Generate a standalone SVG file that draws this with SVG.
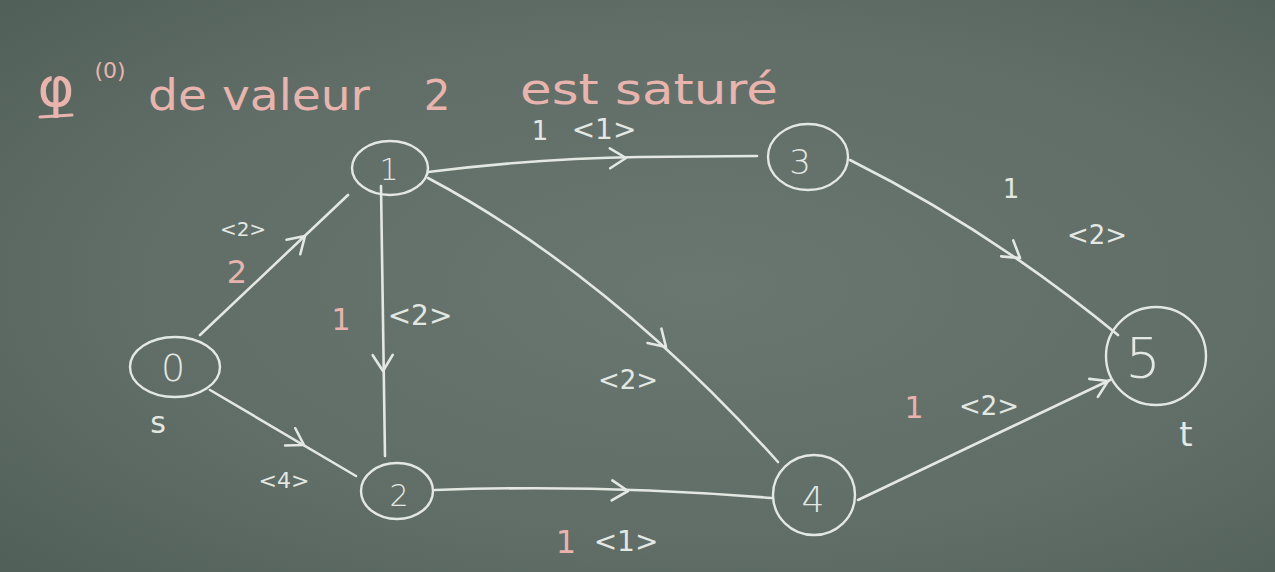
<svg xmlns="http://www.w3.org/2000/svg" width="1275" height="572" viewBox="0 0 1275 572">
  <defs>
    <radialGradient id="board" cx="0.55" cy="0.5" r="0.75">
      <stop offset="0" stop-color="#6a7670"/>
      <stop offset="0.6" stop-color="#606e67"/>
      <stop offset="1" stop-color="#505f57"/>
    </radialGradient>
    <path id="chev" d="M-16,-10 L0,0 L-16,10"/>
    <style>
      .chalk { fill: none; stroke: #e3e8e3; stroke-width: 2.6; stroke-linecap: round; stroke-linejoin: round; }
      .node { fill: none; stroke: #e3e8e3; stroke-width: 2.4; }
      .num { font-family: "DejaVu Sans", "Liberation Sans", sans-serif; fill: #e3e8e3; text-anchor: middle; font-weight: 300; }
      .lbl { font-family: "DejaVu Sans", "Liberation Sans", sans-serif; fill: #e3e8e3; text-anchor: middle; }
      .pink { font-family: "DejaVu Sans", "Liberation Sans", sans-serif; fill: #e9b4ad; text-anchor: middle; }
      .pinkl { font-family: "DejaVu Sans", "Liberation Sans", sans-serif; fill: #e9b4ad; text-anchor: start; }
      .arrow { fill: none; stroke: #e3e8e3; stroke-width: 2.6; stroke-linecap: round; stroke-linejoin: round; }
    </style>
  </defs>
  <rect x="0" y="0" width="1275" height="572" fill="url(#board)"/>

  <g id="title">
    <text class="pink" x="56" y="106" font-size="56">φ</text>
    <line x1="40" y1="117" x2="72" y2="115" stroke="#e9b4ad" stroke-width="3" stroke-linecap="round"/>
    <text class="pink" x="110" y="78" font-size="22">(0)</text>
    <text class="pinkl" x="148" y="110" font-size="42" textLength="222" lengthAdjust="spacingAndGlyphs">de valeur</text>
    <text class="pink" x="437" y="110" font-size="42">2</text>
    <text class="pinkl" x="520" y="104" font-size="42" textLength="258" lengthAdjust="spacingAndGlyphs">est saturé</text>
  </g>

  <g id="connectors">
    <!-- 0 -> 1 -->
    <path class="chalk" d="M200,335 L348,195"/>
    <use href="#chev" class="arrow" transform="translate(305,236) rotate(-43.5)"/>
    <!-- 0 -> 2 -->
    <path class="chalk" d="M210,390 L356,476"/>
    <use href="#chev" class="arrow" transform="translate(304,445) rotate(30.5)"/>
    <!-- 1 -> 2 -->
    <path class="chalk" d="M381,186 L385,456"/>
    <use href="#chev" class="arrow" transform="translate(383,371) rotate(89)"/>
    <!-- 1 -> 3 -->
    <path class="chalk" d="M428,172 Q540,158 640,157 L757,156"/>
    <use href="#chev" class="arrow" transform="translate(626,158) rotate(-1)"/>
    <!-- 1 -> 4 -->
    <path class="chalk" d="M428,178 Q610,275 778,462"/>
    <use href="#chev" class="arrow" transform="translate(666,347) rotate(44)"/>
    <!-- 2 -> 4 -->
    <path class="chalk" d="M435,490 Q600,484 772,498"/>
    <use href="#chev" class="arrow" transform="translate(628,491) rotate(2)"/>
    <!-- 3 -> 5 -->
    <path class="chalk" d="M850,160 Q990,230 1118,335"/>
    <use href="#chev" class="arrow" transform="translate(1020,258) rotate(37)"/>
    <!-- 4 -> 5 -->
    <path class="chalk" d="M858,500 L1110,380"/>
    <use href="#chev" class="arrow" transform="translate(1108,381) rotate(-25.5)"/>
  </g>

  <g id="edge-labels">
    <text class="lbl" x="243" y="236" font-size="20">&lt;2&gt;</text>
    <text class="pink" x="237" y="283" font-size="32">2</text>
    <text class="lbl" x="284" y="488" font-size="22">&lt;4&gt;</text>
    <text class="pink" x="341" y="330" font-size="30">1</text>
    <text class="lbl" x="420" y="325" font-size="28">&lt;2&gt;</text>
    <text class="lbl" x="540" y="140" font-size="26">1</text>
    <text class="lbl" x="604" y="139" font-size="28">&lt;1&gt;</text>
    <text class="lbl" x="628" y="389" font-size="26">&lt;2&gt;</text>
    <text class="pink" x="566" y="553" font-size="32">1</text>
    <text class="lbl" x="626" y="551" font-size="28">&lt;1&gt;</text>
    <text class="lbl" x="1011" y="198" font-size="26">1</text>
    <text class="lbl" x="1097" y="244" font-size="26">&lt;2&gt;</text>
    <text class="pink" x="914" y="418" font-size="30">1</text>
    <text class="lbl" x="989" y="415" font-size="26">&lt;2&gt;</text>
  </g>

  <g id="node-0">
    <ellipse class="node" cx="175" cy="367" rx="45" ry="30"/>
    <text class="num" x="173" y="381" font-size="38">0</text>
    <text class="lbl" x="158" y="433" font-size="30">s</text>
  </g>
  <g id="node-1">
    <ellipse class="node" cx="390" cy="168" rx="38" ry="27"/>
    <text class="num" x="389" y="180" font-size="30">1</text>
  </g>
  <g id="node-2">
    <ellipse class="node" cx="397" cy="491" rx="36" ry="28"/>
    <text class="num" x="399" y="506" font-size="30">2</text>
  </g>
  <g id="node-3">
    <ellipse class="node" cx="808" cy="157" rx="40" ry="33"/>
    <text class="num" x="800" y="174" font-size="34">3</text>
  </g>
  <g id="node-4">
    <ellipse class="node" cx="814" cy="495" rx="41" ry="40"/>
    <text class="num" x="813" y="512" font-size="36">4</text>
  </g>
  <g id="node-5">
    <ellipse class="node" cx="1156" cy="356" rx="50" ry="49"/>
    <text class="num" x="1143" y="377" font-size="56">5</text>
    <text class="lbl" x="1186" y="446" font-size="34">t</text>
  </g>
</svg>
